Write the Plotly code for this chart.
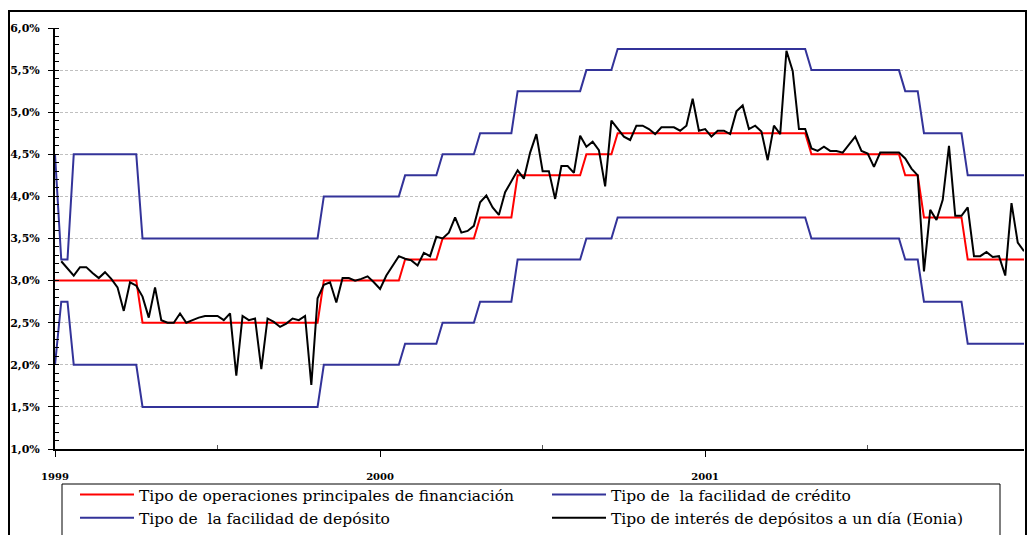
import plotly.graph_objects as go

# ---------------- data (weekly observations, Jan 1999 - Dec 2001) ----------------
tick_positions = [0, 52, 104]
tick_labels = ["1999", "2000", "2001"]
half_year_ticks = [26, 78, 130]

mro = [
    3.00, 3.00, 3.00, 3.00, 3.00, 3.00, 3.00, 3.00, 3.00, 3.00, 3.00, 3.00, 3.00,
    3.00, 2.50, 2.50, 2.50, 2.50, 2.50, 2.50, 2.50, 2.50, 2.50, 2.50, 2.50, 2.50,
    2.50, 2.50, 2.50, 2.50, 2.50, 2.50, 2.50, 2.50, 2.50, 2.50, 2.50, 2.50, 2.50,
    2.50, 2.50, 2.50, 2.50, 3.00, 3.00, 3.00, 3.00, 3.00, 3.00, 3.00, 3.00, 3.00,
    3.00, 3.00, 3.00, 3.00, 3.25, 3.25, 3.25, 3.25, 3.25, 3.25, 3.50, 3.50, 3.50,
    3.50, 3.50, 3.50, 3.75, 3.75, 3.75, 3.75, 3.75, 3.75, 4.25, 4.25, 4.25, 4.25,
    4.25, 4.25, 4.25, 4.25, 4.25, 4.25, 4.25, 4.50, 4.50, 4.50, 4.50, 4.50, 4.75,
    4.75, 4.75, 4.75, 4.75, 4.75, 4.75, 4.75, 4.75, 4.75, 4.75, 4.75, 4.75, 4.75,
    4.75, 4.75, 4.75, 4.75, 4.75, 4.75, 4.75, 4.75, 4.75, 4.75, 4.75, 4.75, 4.75,
    4.75, 4.75, 4.75, 4.75, 4.50, 4.50, 4.50, 4.50, 4.50, 4.50, 4.50, 4.50, 4.50,
    4.50, 4.50, 4.50, 4.50, 4.50, 4.50, 4.25, 4.25, 4.25, 3.75, 3.75, 3.75, 3.75,
    3.75, 3.75, 3.75, 3.25, 3.25, 3.25, 3.25, 3.25, 3.25, 3.25, 3.25, 3.25, 3.25,
]

credit = [
    4.50, 3.25, 3.25, 4.50, 4.50, 4.50, 4.50, 4.50, 4.50, 4.50, 4.50, 4.50, 4.50,
    4.50, 3.50, 3.50, 3.50, 3.50, 3.50, 3.50, 3.50, 3.50, 3.50, 3.50, 3.50, 3.50,
    3.50, 3.50, 3.50, 3.50, 3.50, 3.50, 3.50, 3.50, 3.50, 3.50, 3.50, 3.50, 3.50,
    3.50, 3.50, 3.50, 3.50, 4.00, 4.00, 4.00, 4.00, 4.00, 4.00, 4.00, 4.00, 4.00,
    4.00, 4.00, 4.00, 4.00, 4.25, 4.25, 4.25, 4.25, 4.25, 4.25, 4.50, 4.50, 4.50,
    4.50, 4.50, 4.50, 4.75, 4.75, 4.75, 4.75, 4.75, 4.75, 5.25, 5.25, 5.25, 5.25,
    5.25, 5.25, 5.25, 5.25, 5.25, 5.25, 5.25, 5.50, 5.50, 5.50, 5.50, 5.50, 5.75,
    5.75, 5.75, 5.75, 5.75, 5.75, 5.75, 5.75, 5.75, 5.75, 5.75, 5.75, 5.75, 5.75,
    5.75, 5.75, 5.75, 5.75, 5.75, 5.75, 5.75, 5.75, 5.75, 5.75, 5.75, 5.75, 5.75,
    5.75, 5.75, 5.75, 5.75, 5.50, 5.50, 5.50, 5.50, 5.50, 5.50, 5.50, 5.50, 5.50,
    5.50, 5.50, 5.50, 5.50, 5.50, 5.50, 5.25, 5.25, 5.25, 4.75, 4.75, 4.75, 4.75,
    4.75, 4.75, 4.75, 4.25, 4.25, 4.25, 4.25, 4.25, 4.25, 4.25, 4.25, 4.25, 4.25,
]

deposit = [
    2.00, 2.75, 2.75, 2.00, 2.00, 2.00, 2.00, 2.00, 2.00, 2.00, 2.00, 2.00, 2.00,
    2.00, 1.50, 1.50, 1.50, 1.50, 1.50, 1.50, 1.50, 1.50, 1.50, 1.50, 1.50, 1.50,
    1.50, 1.50, 1.50, 1.50, 1.50, 1.50, 1.50, 1.50, 1.50, 1.50, 1.50, 1.50, 1.50,
    1.50, 1.50, 1.50, 1.50, 2.00, 2.00, 2.00, 2.00, 2.00, 2.00, 2.00, 2.00, 2.00,
    2.00, 2.00, 2.00, 2.00, 2.25, 2.25, 2.25, 2.25, 2.25, 2.25, 2.50, 2.50, 2.50,
    2.50, 2.50, 2.50, 2.75, 2.75, 2.75, 2.75, 2.75, 2.75, 3.25, 3.25, 3.25, 3.25,
    3.25, 3.25, 3.25, 3.25, 3.25, 3.25, 3.25, 3.50, 3.50, 3.50, 3.50, 3.50, 3.75,
    3.75, 3.75, 3.75, 3.75, 3.75, 3.75, 3.75, 3.75, 3.75, 3.75, 3.75, 3.75, 3.75,
    3.75, 3.75, 3.75, 3.75, 3.75, 3.75, 3.75, 3.75, 3.75, 3.75, 3.75, 3.75, 3.75,
    3.75, 3.75, 3.75, 3.75, 3.50, 3.50, 3.50, 3.50, 3.50, 3.50, 3.50, 3.50, 3.50,
    3.50, 3.50, 3.50, 3.50, 3.50, 3.50, 3.25, 3.25, 3.25, 2.75, 2.75, 2.75, 2.75,
    2.75, 2.75, 2.75, 2.25, 2.25, 2.25, 2.25, 2.25, 2.25, 2.25, 2.25, 2.25, 2.25,
]

eonia = [
    None, 3.23, 3.14, 3.06, 3.16, 3.16, 3.09, 3.03, 3.10, 3.02, 2.92, 2.64, 2.98,
    2.94, 2.81, 2.56, 2.92, 2.53, 2.50, 2.50, 2.61, 2.50, 2.53, 2.56, 2.58, 2.58,
    2.58, 2.53, 2.61, 1.87, 2.58, 2.53, 2.55, 1.95, 2.55, 2.51, 2.45, 2.49, 2.55,
    2.53, 2.58, 1.76, 2.79, 2.95, 2.98, 2.74, 3.03, 3.03, 3.00, 3.02, 3.05, 2.98,
    2.90, 3.06, 3.18, 3.29, 3.26, 3.24, 3.18, 3.33, 3.29, 3.52, 3.50, 3.57, 3.75,
    3.57, 3.59, 3.65, 3.93, 4.01, 3.87, 3.78, 4.05, 4.18, 4.31, 4.21, 4.52, 4.74,
    4.30, 4.30, 3.97, 4.36, 4.36, 4.28, 4.72, 4.59, 4.65, 4.55, 4.12, 4.90, 4.80,
    4.71, 4.67, 4.84, 4.84, 4.80, 4.74, 4.82, 4.82, 4.82, 4.78, 4.84, 5.16, 4.78,
    4.80, 4.71, 4.78, 4.78, 4.74, 5.01, 5.08, 4.80, 4.84, 4.77, 4.43, 4.84, 4.74,
    5.73, 5.49, 4.80, 4.80, 4.57, 4.54, 4.59, 4.54, 4.54, 4.52, 4.61, 4.71, 4.54,
    4.51, 4.35, 4.52, 4.52, 4.52, 4.52, 4.45, 4.33, 4.25, 3.11, 3.84, 3.72, 3.96,
    4.60, 3.77, 3.77, 3.87, 3.29, 3.29, 3.34, 3.28, 3.29, 3.06, 3.92, 3.45, 3.35,
]

series_names = [
    "Tipo de operaciones principales de financiación",
    "Tipo de\u00a0 la facilidad de crédito",
    "Tipo de\u00a0 la facilidad de depósito",
    "Tipo de interés de depósitos a un día (Eonia)",
]

weeks = list(range(len(eonia)))

# ---------------- figure ----------------
W, H = 1029, 535
ML, MR, MT, MB = 55, 5, 28, 86
pw, ph = W - ML - MR, H - MT - MB

def px_x(x):
    return (x - ML) / pw

def px_y(y):
    return (H - MB - y) / ph

fig = go.Figure()
fig.add_trace(go.Scatter(x=weeks, y=mro, mode="lines", name=series_names[0],
                         line=dict(color="#FF0000", width=2)))
fig.add_trace(go.Scatter(x=weeks, y=credit, mode="lines", name=series_names[1],
                         line=dict(color="#333399", width=2)))
fig.add_trace(go.Scatter(x=weeks, y=deposit, mode="lines", name=series_names[2],
                         line=dict(color="#333399", width=2)))
fig.add_trace(go.Scatter(x=weeks, y=eonia, mode="lines", name=series_names[3],
                         line=dict(color="#000000", width=2), connectgaps=False))

fig.update_layout(
    width=W, height=H,
    margin=dict(l=ML, r=MR, t=MT, b=MB, pad=0, autoexpand=False),
    paper_bgcolor="white", plot_bgcolor="white",
    separators=",.",
    showlegend=True,
    legend=dict(
        orientation="h",
        x=px_x(75), y=px_y(478), xanchor="left", yanchor="top",
        borderwidth=0, bgcolor="rgba(0,0,0,0)",
        font=dict(family="DejaVu Serif", size=15.5, color="black"),
        entrywidth=403, entrywidthmode="pixels",
        itemwidth=54,
        traceorder="normal",
    ),
    xaxis=dict(
        range=[0, len(eonia) - 1],
        tickmode="array", tickvals=tick_positions, ticktext=tick_labels,
        ticks="outside", ticklen=6, tickwidth=1, tickcolor="black",
        minor=dict(tickmode="array", tickvals=half_year_ticks, ticks="inside",
                   ticklen=4, tickcolor="#555555", tickwidth=1),
        showline=True, linecolor="black", linewidth=2,
        showgrid=False, zeroline=False,
        tickfont=dict(family="DejaVu Serif", size=10, color="black", weight="bold"),
        ticklabelstandoff=11,
        fixedrange=True,
    ),
    yaxis=dict(
        range=[1.0, 6.0],
        tickmode="linear", tick0=1.0, dtick=0.5,
        tickformat=".1f", ticksuffix="%",
        ticks="outside", ticklen=5, tickwidth=1, tickcolor="black",
        minor=dict(dtick=0.1, ticks="inside", ticklen=4, tickcolor="black", tickwidth=1,
                   showgrid=False),
        showline=True, linecolor="black", linewidth=2,
        showgrid=True, gridcolor="#C0C0C0", gridwidth=1, griddash="3px,2px",
        zeroline=False,
        tickfont=dict(family="DejaVu Serif", size=11, color="black", weight="bold"),
        ticklabelstandoff=6,
        fixedrange=True,
    ),
)

# outer chart frame
fig.add_shape(type="rect", xref="paper", yref="paper",
              x0=px_x(9), x1=px_x(1026), y0=px_y(560), y1=px_y(11),
              line=dict(color="black", width=2), fillcolor="rgba(0,0,0,0)",
              layer="above")
# legend box
fig.add_shape(type="rect", xref="paper", yref="paper",
              x0=px_x(62), x1=px_x(1000), y0=px_y(560), y1=px_y(484),
              line=dict(color="black", width=1), fillcolor="rgba(0,0,0,0)",
              layer="above")

fig.write_html("out.html")
